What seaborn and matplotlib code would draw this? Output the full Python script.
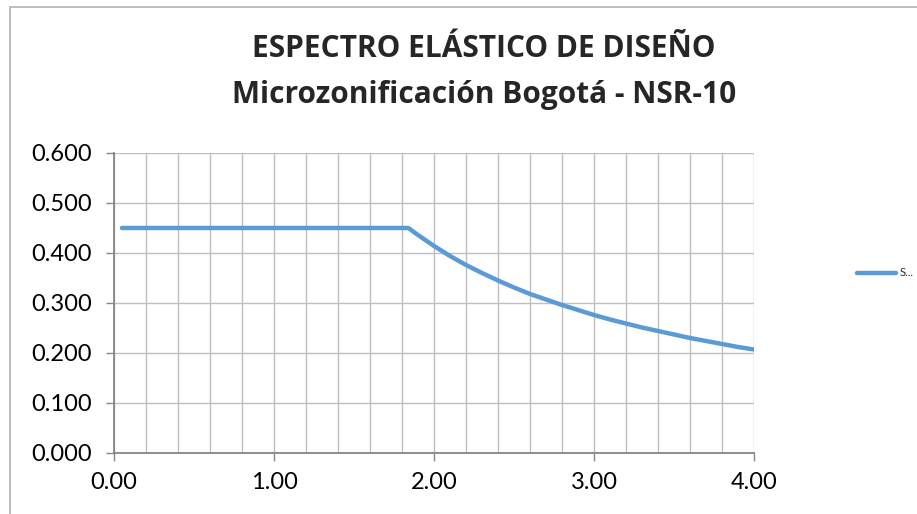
import matplotlib
matplotlib.use("Agg")
import matplotlib.pyplot as plt
import seaborn as sns
import pandas as pd
from matplotlib.patches import Rectangle

# periodo T (s) y aceleracion espectral Sa (g)
periodo = [0.05, 1.84, 1.90, 2.00, 2.10, 2.20, 2.30, 2.40, 2.50, 2.60, 2.70,
           2.80, 2.90, 3.00, 3.10, 3.20, 3.30, 3.40, 3.50, 3.60, 3.70, 3.80,
           3.90, 4.00]
sa = [0.450, 0.450, 0.436, 0.414, 0.394, 0.376, 0.360, 0.345, 0.331, 0.318,
      0.307, 0.296, 0.286, 0.276, 0.267, 0.259, 0.251, 0.244, 0.237, 0.230,
      0.224, 0.218, 0.212, 0.207]
serie = "S..."
titulo_1 = "ESPECTRO ELÁSTICO DE DISEÑO"
titulo_2 = "Microzonificación Bogotá - NSR-10"
x_ticks = [0, 1, 2, 3, 4]
y_ticks = [0.0, 0.1, 0.2, 0.3, 0.4, 0.5, 0.6]

df = pd.DataFrame({"T": periodo, "Sa": sa})

sns.set_style("white")
plt.rcParams["font.family"] = ["Lato", "DejaVu Sans"]

fig = plt.figure(figsize=(9.17, 5.14), dpi=100)
ax = fig.add_axes([0.1243, 0.1187, 0.6979, 0.5837])

# chart border (Excel style)
fig.patches.append(Rectangle((10 / 917, -0.1), 1.2, 1 - 7 / 514 + 0.1,
                             transform=fig.transFigure, fill=False,
                             edgecolor="#B3B3B3", linewidth=1.2))

sns.lineplot(data=df, x="T", y="Sa", ax=ax, color="#5B9BD5", linewidth=3.2,
             label=serie)

ax.set_xlim(0, 4)
ax.set_ylim(0, 0.6)
ax.set_xticks(x_ticks)
ax.set_xticks([i * 0.2 for i in range(21)], minor=True)
ax.set_yticks(y_ticks)
ax.set_xticklabels([f"{v:.2f}" for v in x_ticks])
ax.set_yticklabels([f"{v:.3f}" for v in y_ticks])
ax.grid(True, which="both", axis="x", color="#BFBFBF", linewidth=1)
ax.grid(True, which="major", axis="y", color="#BFBFBF", linewidth=1)
ax.set_axisbelow(True)
ax.set_xlabel("")
ax.set_ylabel("")

for s in ["top", "right"]:
    ax.spines[s].set_visible(False)
for s in ["left", "bottom"]:
    ax.spines[s].set_color("#868686")
    ax.spines[s].set_linewidth(1.3)

ax.tick_params(axis="both", which="major", direction="out", length=6,
               width=1, color="#868686", labelsize=17, labelcolor="black",
               bottom=True, left=True)
ax.tick_params(axis="x", which="minor", length=0)
ax.tick_params(axis="y", pad=10)
ax.tick_params(axis="x", pad=8)

fig.text(484 / 917, 1 - 49 / 514, titulo_1, ha="center", va="center",
         fontsize=21.5, fontweight="bold", family=["Open Sans", "DejaVu Sans"])
fig.text(484 / 917, 1 - 95 / 514, titulo_2, ha="center", va="center",
         fontsize=21.5, fontweight="bold", family=["Open Sans", "DejaVu Sans"])

ax.legend(loc="center left", bbox_to_anchor=(853 / 917, 1 - 273 / 514),
          bbox_transform=fig.transFigure, frameon=False, fontsize=8,
          handlelength=3.5, handletextpad=0.3, borderaxespad=0)

fig.savefig("out.png", dpi=100)
